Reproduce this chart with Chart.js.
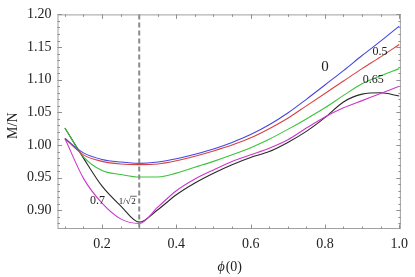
<!DOCTYPE html>
<html>
<head>
<meta charset="utf-8">
<script src="https://cdn.jsdelivr.net/npm/chart.js@4.4.1/dist/chart.umd.min.js"></script>
<style>
  html, body { margin: 0; padding: 0; background: #fff; }
  #wrap { width: 415px; height: 277px; }
</style>
</head>
<body>
<div id="wrap"><canvas id="chart" width="415" height="277"></canvas></div>
<script>
// phi(0) sample points
const phi = [0.10, 0.15, 0.20, 0.25, 0.30, 0.35, 0.40, 0.45, 0.50, 0.55, 0.60, 0.65, 0.70, 0.75, 0.80, 0.85, 0.90, 0.95, 1.00];

// M/N for each curve
const curve0   = [1.010, 0.988, 0.978, 0.974, 0.972, 0.974, 0.979, 0.986, 0.994, 1.004, 1.016, 1.031, 1.049, 1.070, 1.092, 1.114, 1.137, 1.159, 1.182];
const curve05  = [1.010, 0.985, 0.975, 0.971, 0.970, 0.971, 0.976, 0.983, 0.991, 1.000, 1.011, 1.025, 1.041, 1.060, 1.079, 1.098, 1.117, 1.135, 1.154];
const curve065 = [1.026, 0.982, 0.961, 0.955, 0.951, 0.951, 0.957, 0.966, 0.975, 0.985, 0.996, 1.009, 1.024, 1.040, 1.057, 1.076, 1.094, 1.106, 1.117];
const curve07  = [1.010, 0.949, 0.911, 0.887, 0.880, 0.905, 0.930, 0.948, 0.962, 0.975, 0.985, 0.995, 1.008, 1.026, 1.043, 1.057, 1.068, 1.079, 1.090];
const curveRt2 = [1.026, 0.980, 0.937, 0.907, 0.882, 0.901, 0.924, 0.942, 0.957, 0.970, 0.981, 0.990, 1.004, 1.021, 1.042, 1.066, 1.078, 1.080, 1.075];

const xTicks = [0.2, 0.4, 0.6, 0.8, 1.0];
const yTicks = [0.90, 0.95, 1.00, 1.05, 1.10, 1.15, 1.20];
const dashX = 0.3;

// curve annotations, in data coordinates
const notes = [
  { text: '0',    x: 0.800, y: 1.120, size: 15 },
  { text: '0.5',  x: 0.948, y: 1.1425, size: 12 },
  { text: '0.65', x: 0.930, y: 1.100, size: 12 },
  { text: '0.7',  x: 0.1875, y: 0.915, size: 12 }
];
const rootNote = { x: 0.272, y: 0.914 };

const serif = '"Liberation Serif", "DejaVu Serif", serif';

function series(ys) {
  return phi.map((x, i) => ({ x: x, y: ys[i] }));
}

const frame = {
  id: 'frame',
  afterDraw(chart) {
    const ctx = chart.ctx;
    const a = chart.chartArea;
    const xs = chart.scales.x, ys = chart.scales.y;
    ctx.save();

    // dashed line at phi = 0.3
    const dx = xs.getPixelForValue(dashX);
    ctx.strokeStyle = '#8a8a8a';
    ctx.lineWidth = 2;
    ctx.setLineDash([5, 3]);
    ctx.beginPath();
    ctx.moveTo(dx, a.top);
    ctx.lineTo(dx, a.bottom);
    ctx.stroke();
    ctx.setLineDash([]);

    // frame
    ctx.strokeStyle = '#a0a0a0';
    ctx.lineWidth = 1;
    ctx.strokeRect(a.left + 0.5, a.top + 0.5, a.right - a.left - 1, a.bottom - a.top - 1);

    // ticks pointing inward
    ctx.strokeStyle = '#909090';
    ctx.beginPath();
    for (let v = 0.10; v <= 1.0001; v += 0.05) {
      const major = Math.abs(v * 5 - Math.round(v * 5)) < 1e-6;
      const len = major ? 4.5 : 2.5;
      const p = Math.round(xs.getPixelForValue(v)) + 0.5;
      ctx.moveTo(p, a.bottom); ctx.lineTo(p, a.bottom - len);
      ctx.moveTo(p, a.top); ctx.lineTo(p, a.top + len);
    }
    for (let k = 88; k <= 120; k++) {
      const v = k / 100;
      if (v < ys.min) continue;
      const major = k % 5 === 0;
      const len = major ? 4.5 : 2.5;
      const p = Math.round(ys.getPixelForValue(v)) + 0.5;
      ctx.moveTo(a.left, p); ctx.lineTo(a.left + len, p);
      ctx.moveTo(a.right, p); ctx.lineTo(a.right - len, p);
    }
    ctx.stroke();

    // curve labels
    ctx.fillStyle = '#222';
    ctx.textAlign = 'center';
    ctx.textBaseline = 'middle';
    notes.forEach(n => {
      ctx.font = n.size + 'px ' + serif;
      ctx.fillText(n.text, xs.getPixelForValue(n.x), ys.getPixelForValue(n.y));
    });

    // 1/sqrt(2) label
    const rx = xs.getPixelForValue(rootNote.x), ry = ys.getPixelForValue(rootNote.y);
    ctx.font = '9px ' + serif;
    ctx.textAlign = 'left';
    ctx.fillText('1/\u221A', rx - 10, ry);
    const w = ctx.measureText('1/\u221A').width;
    ctx.fillText('2', rx - 10 + w + 0.5, ry + 0.5);
    ctx.beginPath();
    ctx.strokeStyle = '#222';
    ctx.lineWidth = 0.7;
    ctx.moveTo(rx - 10 + w - 0.5, ry - 5);
    ctx.lineTo(rx - 10 + w + 6, ry - 5);
    ctx.stroke();

    // axis titles
    ctx.fillStyle = '#222';
    ctx.textBaseline = 'middle';
    ctx.textAlign = 'left';
    const t1 = '\u03D5';
    ctx.font = '14px ' + serif;
    const wt = ctx.measureText('(0)').width;
    ctx.font = 'italic 14px ' + serif;
    const wp = ctx.measureText(t1).width;
    const cx = (a.left + a.right) / 2 + 0.5;
    const startX = cx - (wt + wp + 1) / 2;
    ctx.fillText(t1, startX, 267);
    ctx.font = '14px ' + serif;
    ctx.fillText('(0)', startX + wp + 1, 267);

    ctx.translate(13, (a.top + a.bottom) / 2 + 4);
    ctx.rotate(-Math.PI / 2);
    ctx.textAlign = 'center';
    ctx.fillText('M/N', 0, 0);
    ctx.restore();
  }
};

const lineStyle = { fill: false, pointRadius: 0, borderWidth: 1.1, cubicInterpolationMode: 'monotone' };

new Chart(document.getElementById('chart'), {
  type: 'line',
  data: {
    datasets: [
      Object.assign({ label: '0',    data: series(curve0),   borderColor: 'rgb(70,70,225)' }, lineStyle),
      Object.assign({ label: '0.5',  data: series(curve05),  borderColor: 'rgb(215,65,65)' }, lineStyle),
      Object.assign({ label: '0.65', data: series(curve065), borderColor: 'rgb(60,195,60)' }, lineStyle),
      Object.assign({ label: '0.7',  data: series(curve07),  borderColor: 'rgb(205,55,205)' }, lineStyle),
      Object.assign({ label: '1/√2', data: series(curveRt2), borderColor: 'rgb(40,40,40)' }, lineStyle)
    ]
  },
  options: {
    responsive: false,
    animation: false,
    layout: { padding: { top: 10, right: 8.5, left: 0, bottom: 0 } },
    plugins: { legend: { display: false }, tooltip: { enabled: false } },
    scales: {
      x: {
        type: 'linear',
        min: 0.080,
        max: 1.0045,
        grid: { display: false, drawTicks: false },
        border: { display: false },
        afterBuildTicks: s => { s.ticks = xTicks.map(v => ({ value: v })); },
        afterFit: s => { s.height = 48; },
        ticks: {
          padding: 7,
          color: '#222',
          font: { family: serif, size: 14 },
          callback: v => v.toFixed(1)
        }
      },
      y: {
        min: 0.8715,
        max: 1.20,
        grid: { display: false, drawTicks: false },
        border: { display: false },
        afterBuildTicks: s => { s.ticks = yTicks.map(v => ({ value: v })); },
        afterFit: s => { s.width = 57.5; },
        ticks: {
          padding: 6,
          color: '#222',
          font: { family: serif, size: 14 },
          callback: v => v.toFixed(2)
        }
      }
    }
  },
  plugins: [frame]
});
</script>
</body>
</html>
